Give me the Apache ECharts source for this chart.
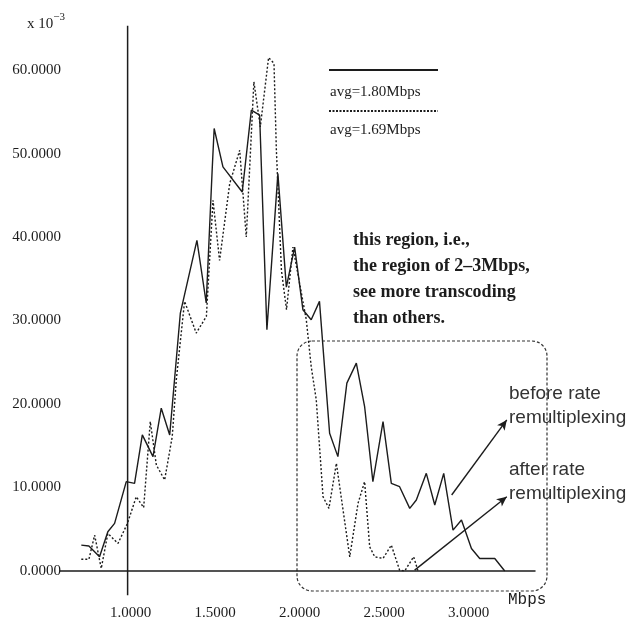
<!DOCTYPE html>
<html><head><meta charset="utf-8">
<script src="https://cdn.jsdelivr.net/npm/echarts@6/dist/echarts.min.js"></script>
<style>html,body{margin:0;padding:0;background:#fff}#c{width:642px;height:623px}</style>
</head><body><div id="c"></div>
<script>
// tick labels
const xTicks = [1.0, 1.5, 2.0, 2.5, 3.0];
const yTicks = [0, 10, 20, 30, 40, 50, 60];
// before rate remultiplexing (solid), x in Mbps, y in units of 10^-3
const beforeX = [0.726,0.771,0.834,0.883,0.923,0.992,1.041,1.087,1.150,1.199,1.249,1.312,1.410,1.465,1.501,1.512,1.564,1.678,1.732,1.781,1.824,1.889,1.939,1.988,2.037,2.086,2.135,2.195,2.244,2.297,2.353,2.402,2.451,2.511,2.560,2.609,2.669,2.708,2.767,2.817,2.870,2.925,2.975,3.034,3.083,3.172,3.231];
const beforeY = [3.1,3.0,1.7,4.7,5.7,10.7,10.5,16.3,13.7,19.5,16.3,30.9,39.6,32.1,48.4,53.0,48.4,45.4,55.2,54.6,28.9,47.6,34.0,38.8,31.3,30.1,32.3,16.5,13.7,22.5,24.9,19.7,10.7,17.9,10.5,10.1,7.5,8.5,11.7,7.9,11.7,4.9,6.1,2.7,1.5,1.5,0.0];
// after rate remultiplexing (dotted)
const afterX = [0.726,0.771,0.805,0.844,0.883,0.943,0.999,1.051,1.095,1.134,1.170,1.219,1.264,1.288,1.337,1.406,1.466,1.505,1.544,1.604,1.663,1.702,1.747,1.785,1.834,1.866,1.880,1.910,1.940,1.978,2.057,2.086,2.116,2.156,2.191,2.235,2.314,2.363,2.402,2.432,2.462,2.511,2.560,2.609,2.639,2.692,2.718];
const afterY = [1.4,1.4,4.3,0.3,4.5,3.3,5.7,8.9,7.6,17.9,12.7,10.9,16.1,22.9,32.3,28.5,30.5,44.4,37.2,46.4,50.4,40.0,58.6,53.2,61.5,60.8,50.4,36.0,31.3,38.8,30.1,24.5,20.5,8.9,7.5,12.9,1.7,8.1,10.7,2.9,1.7,1.5,3.1,0.1,0.0,1.7,0.0];
// legend / annotation texts
const seriesNames = ['avg=1.80Mbps', 'avg=1.69Mbps'];
const noteLines = ['this region, i.e.,', 'the region of 2\u20133Mbps,', 'see more transcoding', 'than others.'];
const beforeLabel = ['before rate', 'remultiplexing'];
const afterLabel = ['after rate', 'remultiplexing'];
// arrow annotations in data coordinates [x0,y0,x1,y1]
const arrowBefore = [2.917, 9.1, 3.243, 18.1];
const arrowAfter = [2.698, 0.1, 3.243, 8.9];
// vertical axis line at x = 1
const vAxisX = [1, 1];
const vAxisY = [-2.9, 65.3];

const zip = (xs, ys) => xs.map((x, i) => [x, ys[i]]);
const ink = '#1c1c1c';
const serif = 'Liberation Serif';

const chart = echarts.init(document.getElementById('c'), null, {renderer: 'canvas'});
chart.setOption({
  animation: false,
  backgroundColor: '#fff',
  title: {
    text: '{a|x 10}{b|\u22123}',
    left: 22, top: 4,
    textStyle: {rich: {
      a: {fontFamily: serif, fontSize: 15, fontWeight: 'normal', color: ink, padding: [8, 0, 0, 0]},
      b: {fontFamily: serif, fontSize: 11, fontWeight: 'normal', color: ink, padding: [0, 0, 6, 0]}
    }}
  },
  grid: {left: 60, right: 107, top: 20, bottom: 52},
  xAxis: {
    type: 'value', min: 0.6, max: 3.41,
    axisLine: {show: true, onZero: false, lineStyle: {color: ink, width: 1.5}},
    axisTick: {show: false},
    splitLine: {show: false},
    axisLabel: {
      customValues: xTicks, margin: 35, padding: [0, 0, 0, 6],
      fontFamily: serif, fontSize: 15, color: ink,
      formatter: v => v.toFixed(4)
    }
  },
  yAxis: {
    type: 'value', min: 0, max: 66,
    axisLine: {show: false}, axisTick: {show: false}, splitLine: {show: false},
    axisLabel: {
      customValues: yTicks, margin: -1, padding: [18, 0, 0, 0],
      fontFamily: serif, fontSize: 15, color: ink,
      formatter: v => v.toFixed(4)
    }
  },
  series: [
    {
      name: seriesNames[0], type: 'line', data: zip(beforeX, beforeY),
      showSymbol: false, symbol: 'none',
      lineStyle: {color: ink, width: 1.4},
      markLine: {
        silent: true, symbol: ['none', 'arrow'], symbolSize: [7, 10],
        label: {show: false},
        lineStyle: {color: ink, width: 1.4, type: 'solid'},
        data: [
          [{coord: [arrowBefore[0], arrowBefore[1]]}, {coord: [arrowBefore[2], arrowBefore[3]]}],
          [{coord: [arrowAfter[0], arrowAfter[1]]}, {coord: [arrowAfter[2], arrowAfter[3]]}]
        ]
      }
    },
    {
      name: seriesNames[1], type: 'line', data: zip(afterX, afterY),
      showSymbol: false, symbol: 'none',
      lineStyle: {color: ink, width: 1.4, type: [2, 2]}
    },
    {
      type: 'line', data: zip(vAxisX, vAxisY), clip: false, silent: true,
      showSymbol: false, symbol: 'none',
      lineStyle: {color: ink, width: 1.5}
    }
  ],
  graphic: [
    {type: 'line', shape: {x1: 329, y1: 70, x2: 438, y2: 70}, style: {stroke: ink, lineWidth: 2}},
    {type: 'text', left: 330, top: 85, style: {text: seriesNames[0], font: '15px "Liberation Serif"', fill: ink}},
    {type: 'line', shape: {x1: 329, y1: 111, x2: 438, y2: 111}, style: {stroke: ink, lineWidth: 2, lineDash: [2, 1.5]}},
    {type: 'text', left: 330, top: 123, style: {text: seriesNames[1], font: '15px "Liberation Serif"', fill: ink}},
    {type: 'text', left: 353, top: 227, style: {text: noteLines.join('\n'), font: 'bold 18px "Liberation Serif"', lineHeight: 26, fill: ink}},
    {type: 'rect', shape: {x: 297, y: 341, width: 250, height: 250, r: 15}, style: {fill: 'none', stroke: '#333', lineWidth: 1.2, lineDash: [3, 2]}},
    {type: 'text', left: 509, top: 382, style: {text: beforeLabel.join('\n'), font: '19px "Liberation Sans"', lineHeight: 24, fill: '#333'}},
    {type: 'text', left: 509, top: 458, style: {text: afterLabel.join('\n'), font: '19px "Liberation Sans"', lineHeight: 24, fill: '#333'}},
    {type: 'text', left: 508, top: 592, style: {text: 'Mbps', font: '16px "Liberation Mono"', fill: ink}}
  ]
});
</script>
</body></html>
